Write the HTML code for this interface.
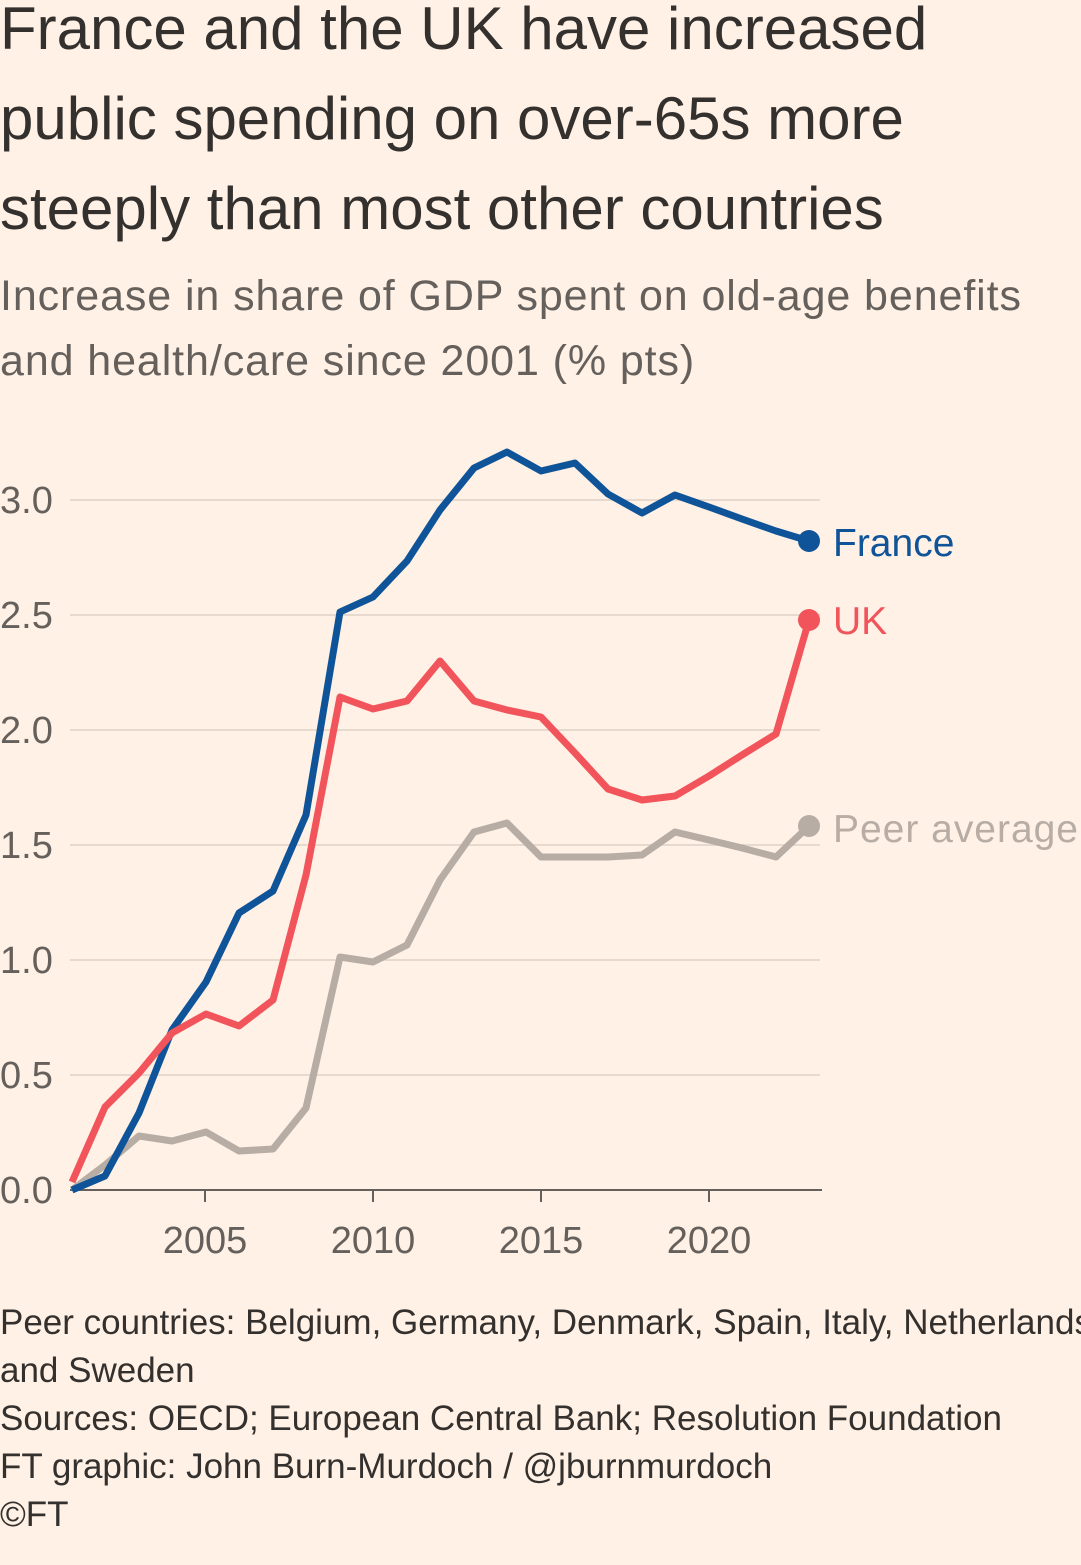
<!DOCTYPE html>
<html><head><meta charset="utf-8"><style>
html,body{margin:0;padding:0;background:#fff1e5;}
body{width:1081px;height:1565px;position:relative;overflow:hidden;font-family:"Liberation Sans",sans-serif;}
.t{position:absolute;left:0;white-space:nowrap;}
</style></head><body>
<div class="t" style="top:-16px;font-size:60px;line-height:90px;color:#33302e;">France and the UK have increased<br>public spending on over-65s more<br>steeply than most other countries</div>
<div class="t" style="top:264px;font-size:43px;line-height:65px;letter-spacing:0.9px;color:#66605c;">Increase in share of GDP spent on old-age benefits<br>and health/care since 2001 (% pts)</div>
<svg style="position:absolute;left:0;top:0" width="1081" height="1565">
<g stroke="#e6d9ce" stroke-width="2">
<line x1="70" x2="820" y1="500" y2="500"/><line x1="70" x2="820" y1="615" y2="615"/>
<line x1="70" x2="820" y1="730" y2="730"/><line x1="70" x2="820" y1="845" y2="845"/>
<line x1="70" x2="820" y1="960" y2="960"/><line x1="70" x2="820" y1="1075" y2="1075"/>
</g>
<line x1="70" x2="822" y1="1190" y2="1190" stroke="#66605c" stroke-width="2"/>
<g stroke="#66605c" stroke-width="2"><line x1="205" x2="205" y1="1190" y2="1202"/><line x1="373" x2="373" y1="1190" y2="1202"/><line x1="541" x2="541" y1="1190" y2="1202"/><line x1="709" x2="709" y1="1190" y2="1202"/></g>
<g font-size="38" fill="#66605c">
<text x="0" y="513">3.0</text><text x="0" y="628">2.5</text><text x="0" y="743">2.0</text><text x="0" y="858">1.5</text><text x="0" y="973">1.0</text><text x="0" y="1088">0.5</text><text x="0" y="1203">0.0</text>
<g text-anchor="middle"><text x="205" y="1253">2005</text><text x="373" y="1253">2010</text><text x="541" y="1253">2015</text><text x="709" y="1253">2020</text></g>
</g>
<g fill="none" stroke-width="7" stroke-linejoin="round">
<polyline stroke="#b7ada5" points="72,1190 105,1165 139,1136 172,1141 206,1132 239,1151 273,1149 306,1108 340,957 373,962 407,945 440,880 474,832 507,823 541,857 575,857 608,857 642,855 675,832 709,840 742,848 776,857 809,826"/>
<polyline stroke="#0f5499" points="72,1190 105,1176 139,1113 172,1030 206,982 239,913 273,891 306,815 340,612 373,597 407,561 440,510 474,468 507,452 541,471 575,463 608,494 642,513 675,495 709,507 742,519 776,531 809,541"/>
<polyline stroke="#f2545b" points="72,1182 105,1107 139,1073 172,1033 206,1014 239,1026 273,1000 306,875 340,697 373,709 407,701 440,661 474,701 507,710 541,717 575,753 608,789 642,800 675,796 709,776 742,755 776,734 809,620"/>
</g>
<circle cx="809" cy="541" r="11" fill="#0f5499"/><circle cx="809" cy="620" r="11" fill="#f2545b"/><circle cx="809" cy="826" r="11" fill="#b7ada5"/>
<g font-size="39"><text x="833" y="556" fill="#0f5499">France</text><text x="833" y="634" fill="#f2545b">UK</text><text x="833" y="842" fill="#b7ada5" textLength="245">Peer average</text></g>
</svg>
<div class="t" style="top:1299px;font-size:35px;line-height:48px;color:#33302e;">Peer countries: Belgium, Germany, Denmark, Spain, Italy, Netherlands<br>and Sweden<br>Sources: OECD; European Central Bank; Resolution Foundation<br>FT graphic: John Burn-Murdoch / @jburnmurdoch<br>©FT</div>
</body></html>
